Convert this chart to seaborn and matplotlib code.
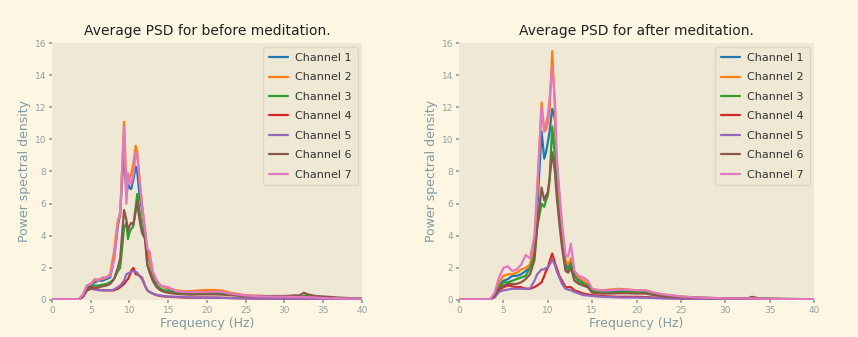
import numpy as np
import pandas as pd
import seaborn as sns
import matplotlib.pyplot as plt

# frequency grid (Hz)
freq = [0, 3.5, 4, 4.5, 5, 5.5, 6, 6.5, 7, 7.5, 8, 8.5, 8.8, 9.3, 9.6, 9.8, 10, 10.2,
        10.5, 10.8, 11, 11.3, 11.6, 12, 12.3, 12.6, 13, 13.5, 14, 14.5, 15, 16, 17, 18,
        19, 20, 21, 22, 23, 25, 27, 30, 32, 32.5, 33, 34, 35, 37, 40]

channels = ["Channel 1", "Channel 2", "Channel 3", "Channel 4", "Channel 5", "Channel 6", "Channel 7"]

# before meditation
before_ch1 = [0.05, 0.05, 0.3, 0.8, 0.9, 1.1, 1.2, 1.2, 1.3, 1.4, 2.5, 4.6, 5.4, 9.5, 6.5, 7.2, 7.0, 6.9,
              7.5, 8.3, 8.0, 6.5, 5.7, 4.0, 2.8, 2.4, 1.6, 1.1, 0.9, 0.8, 0.7, 0.5, 0.45, 0.4,
              0.42, 0.45, 0.45, 0.4, 0.35, 0.25, 0.2, 0.18, 0.15, 0.15, 0.15, 0.12, 0.12, 0.1, 0.08]
before_ch2 = [0.05, 0.05, 0.3, 0.9, 1.0, 1.2, 1.3, 1.3, 1.4, 1.6, 3.0, 5.0, 5.2, 11.1, 7.0, 7.5, 7.6, 7.8,
              8.5, 9.6, 9.2, 7.5, 6.0, 4.2, 3.0, 2.5, 1.7, 1.2, 0.9, 0.8, 0.75, 0.6, 0.55, 0.55,
              0.6, 0.62, 0.62, 0.58, 0.45, 0.3, 0.25, 0.2, 0.18, 0.2, 0.18, 0.15, 0.12, 0.1, 0.08]
before_ch3 = [0.05, 0.05, 0.25, 0.7, 0.8, 0.9, 0.9, 0.95, 1.0, 1.1, 1.3, 1.8, 2.0, 4.5, 4.8, 3.8, 4.2, 4.4,
              4.6, 5.8, 6.6, 5.5, 4.5, 4.0, 2.2, 1.8, 1.3, 0.9, 0.7, 0.6, 0.55, 0.45, 0.4, 0.38,
              0.4, 0.42, 0.45, 0.4, 0.32, 0.25, 0.2, 0.18, 0.2, 0.25, 0.3, 0.15, 0.12, 0.1, 0.08]
before_ch4 = [0.05, 0.05, 0.2, 0.6, 0.8, 0.7, 0.65, 0.6, 0.6, 0.6, 0.6, 0.7, 0.8, 1.0, 1.2, 1.3, 1.5, 1.8,
              2.0, 1.6, 1.6, 1.5, 1.4, 0.9, 0.6, 0.5, 0.4, 0.3, 0.25, 0.22, 0.2, 0.18, 0.16, 0.15,
              0.15, 0.15, 0.15, 0.14, 0.12, 0.1, 0.09, 0.08, 0.08, 0.08, 0.08, 0.07, 0.07, 0.06, 0.05]
before_ch5 = [0.05, 0.05, 0.2, 0.6, 0.7, 0.65, 0.6, 0.62, 0.6, 0.6, 0.65, 0.8, 0.9, 1.2, 1.6, 1.65, 1.7, 1.75,
              1.8, 1.75, 1.7, 1.5, 1.3, 0.9, 0.6, 0.5, 0.4, 0.32, 0.28, 0.25, 0.22, 0.2, 0.18, 0.16,
              0.15, 0.15, 0.14, 0.13, 0.12, 0.1, 0.09, 0.08, 0.08, 0.08, 0.08, 0.07, 0.07, 0.06, 0.05]
before_ch6 = [0.05, 0.05, 0.25, 0.6, 0.7, 0.75, 0.8, 0.85, 0.9, 1.0, 1.3, 2.0, 2.6, 5.6, 5.0, 4.3, 4.6, 4.8,
              4.7, 5.5, 6.1, 5.0, 4.2, 3.8, 2.2, 1.7, 1.2, 0.8, 0.6, 0.5, 0.45, 0.38, 0.35, 0.33,
              0.35, 0.35, 0.35, 0.33, 0.3, 0.25, 0.25, 0.25, 0.3, 0.45, 0.35, 0.25, 0.22, 0.15, 0.08]
before_ch7 = [0.05, 0.05, 0.35, 0.9, 1.0, 1.3, 1.2, 1.4, 1.4, 1.5, 2.5, 4.8, 5.5, 10.8, 6.0, 7.9, 7.5, 7.2,
              7.8, 9.2, 9.0, 7.5, 6.0, 4.5, 3.2, 3.0, 1.8, 1.2, 0.9, 0.85, 0.8, 0.55, 0.5, 0.5,
              0.5, 0.5, 0.52, 0.5, 0.4, 0.28, 0.22, 0.2, 0.18, 0.18, 0.18, 0.15, 0.12, 0.1, 0.08]

# after meditation
after_ch1 = [0.05, 0.05, 0.3, 0.9, 1.2, 1.3, 1.5, 1.5, 1.6, 1.8, 2.0, 3.0, 5.5, 10.5, 8.8, 9.2, 9.8, 10.5,
             11.9, 11.3, 8.5, 6.5, 4.5, 2.2, 2.0, 2.5, 1.6, 1.3, 1.1, 1.0, 0.6, 0.5, 0.5, 0.55,
             0.55, 0.5, 0.5, 0.4, 0.3, 0.2, 0.15, 0.1, 0.1, 0.1, 0.1, 0.08, 0.07, 0.06, 0.05]
after_ch2 = [0.05, 0.05, 0.35, 1.1, 1.5, 1.6, 1.6, 1.7, 1.9, 2.0, 2.2, 3.5, 6.5, 12.3, 10.5, 10.6, 11.0, 11.8,
             15.5, 12.0, 8.0, 6.0, 4.2, 2.5, 2.2, 2.6, 1.7, 1.4, 1.2, 1.0, 0.65, 0.6, 0.65, 0.7,
             0.65, 0.6, 0.6, 0.45, 0.35, 0.22, 0.15, 0.1, 0.1, 0.1, 0.1, 0.08, 0.07, 0.06, 0.05]
after_ch3 = [0.05, 0.05, 0.3, 0.8, 1.1, 1.1, 1.2, 1.3, 1.4, 1.5, 2.0, 2.8, 4.5, 6.0, 5.8, 6.2, 6.5, 7.5,
             10.8, 9.0, 7.0, 5.0, 3.5, 2.0, 1.8, 2.3, 1.5, 1.1, 1.0, 0.9, 0.55, 0.45, 0.45, 0.5,
             0.5, 0.48, 0.5, 0.35, 0.25, 0.18, 0.13, 0.1, 0.1, 0.1, 0.1, 0.08, 0.07, 0.06, 0.05]
after_ch4 = [0.05, 0.05, 0.2, 0.6, 0.8, 0.9, 0.85, 0.8, 0.8, 0.7, 0.7, 0.8, 0.9, 1.1, 1.5, 1.8, 2.0, 2.4,
             2.9, 2.3, 2.0, 1.5, 1.2, 0.8, 0.8, 0.8, 0.6, 0.5, 0.4, 0.35, 0.3, 0.25, 0.22, 0.2,
             0.2, 0.2, 0.18, 0.15, 0.12, 0.1, 0.08, 0.07, 0.07, 0.07, 0.07, 0.06, 0.06, 0.05, 0.05]
after_ch5 = [0.05, 0.05, 0.15, 0.5, 0.6, 0.65, 0.7, 0.7, 0.7, 0.7, 0.7, 1.2, 1.6, 1.9, 1.9, 2.0, 2.0, 2.2,
             2.5, 2.2, 1.8, 1.4, 1.0, 0.7, 0.65, 0.6, 0.5, 0.4, 0.3, 0.28, 0.25, 0.2, 0.18, 0.16,
             0.15, 0.15, 0.14, 0.12, 0.1, 0.08, 0.07, 0.07, 0.07, 0.07, 0.07, 0.06, 0.06, 0.05, 0.05]
after_ch6 = [0.05, 0.05, 0.25, 0.7, 0.9, 1.0, 1.0, 1.0, 1.1, 1.3, 1.6, 2.5, 4.5, 7.0, 6.2, 6.5, 6.7, 7.5,
             9.2, 8.0, 6.5, 4.8, 3.3, 1.8, 1.7, 2.0, 1.2, 1.0, 0.9, 0.8, 0.45, 0.4, 0.4, 0.42,
             0.42, 0.4, 0.4, 0.3, 0.22, 0.16, 0.12, 0.1, 0.1, 0.1, 0.2, 0.08, 0.07, 0.06, 0.05]
after_ch7 = [0.05, 0.05, 0.45, 1.4, 2.0, 2.1, 1.8, 1.9, 2.2, 2.8, 2.6, 4.0, 7.0, 12.0, 10.5, 11.0, 11.5, 12.5,
             14.5, 12.5, 9.0, 6.8, 4.8, 2.8, 2.7, 3.5, 1.8, 1.5, 1.4, 1.2, 0.7, 0.6, 0.6, 0.65,
             0.65, 0.6, 0.6, 0.45, 0.35, 0.22, 0.15, 0.1, 0.1, 0.1, 0.1, 0.08, 0.07, 0.06, 0.05]

before = [before_ch1, before_ch2, before_ch3, before_ch4, before_ch5, before_ch6, before_ch7]
after = [after_ch1, after_ch2, after_ch3, after_ch4, after_ch5, after_ch6, after_ch7]


def long_df(series):
    rows = []
    for name, vals in zip(channels, series):
        for f, v in zip(freq, vals):
            rows.append((f, v, name))
    return pd.DataFrame(rows, columns=["freq", "psd", "channel"])


sns.set_theme(style="white", rc={
    "figure.facecolor": "#fdf6e3",
    "axes.facecolor": "#eee8d5",
    "axes.edgecolor": "#eee8d5",
    "axes.labelcolor": "#7f9aa5",
    "xtick.color": "#93a1a1",
    "ytick.color": "#93a1a1",
    "xtick.bottom": True,
    "ytick.left": True,
    "xtick.major.size": 2.5,
    "ytick.major.size": 2.5,
})
plt.rcParams["font.family"] = ["DejaVu Sans"]

fig = plt.figure(figsize=(8.58, 3.37), dpi=100)
ax1 = fig.add_axes([0.0606, 0.1098, 0.3613, 0.7626])
ax2 = fig.add_axes([0.535, 0.1098, 0.4138, 0.7626])

for ax, series, title in [(ax1, before, "Average PSD for before meditation."),
                          (ax2, after, "Average PSD for after meditation.")]:
    sns.lineplot(data=long_df(series), x="freq", y="psd", hue="channel",
                 palette="tab10", linewidth=1.6, ax=ax)
    ax.set_xlim(0, 40)
    ax.set_ylim(0, 16)
    ax.set_xticks(range(0, 41, 5))
    ax.set_yticks(range(0, 17, 2))
    ax.tick_params(labelsize=6.5, pad=1.5)
    ax.set_title(title, fontsize=10, color="#222222", pad=6)
    ax.set_xlabel("Frequency (Hz)", fontsize=9, labelpad=2)
    ax.set_ylabel("Power spectral density", fontsize=9, labelpad=3)
    for s in ax.spines.values():
        s.set_visible(False)
    leg = ax.legend(loc="upper right", fontsize=8, frameon=True, title=None,
                    facecolor="#eee8d5", edgecolor="#dcd6c4", framealpha=1,
                    handlelength=1.7, handletextpad=0.7, labelspacing=0.85,
                    borderpad=0.5, borderaxespad=0.4)
    for t in leg.get_texts():
        t.set_color("#333333")

fig.savefig("out.png", dpi=100, facecolor=fig.get_facecolor())
